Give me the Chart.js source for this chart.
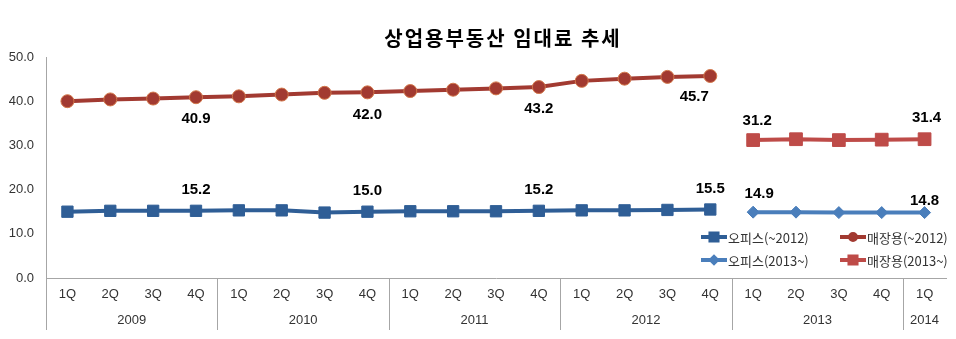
<!DOCTYPE html>
<html>
<head>
<meta charset="utf-8">
<script src="https://cdn.jsdelivr.net/npm/chart.js@4/dist/chart.umd.min.js"></script>
<style>
  html, body { margin: 0; padding: 0; background: #fff; }
  #wrap { width: 956px; height: 339px; position: relative; }
</style>
</head>
<body>
<div id="wrap"><canvas id="rentChart"></canvas></div>
<script>
const quarters = ['1Q', '2Q', '3Q', '4Q', '1Q', '2Q', '3Q', '4Q', '1Q', '2Q', '3Q', '4Q',
                  '1Q', '2Q', '3Q', '4Q', '1Q', '2Q', '3Q', '4Q', '1Q'];
const years = [
    { label: '2009', from: 0, to: 3 },
    { label: '2010', from: 4, to: 7 },
    { label: '2011', from: 8, to: 11 },
    { label: '2012', from: 12, to: 15 },
    { label: '2013', from: 16, to: 19 },
    { label: '2014', from: 20, to: 20 }
];
const yTicks = [0, 10, 20, 30, 40, 50];

// 2009 1Q ~ 2012 4Q
const officeOld = [15.0, 15.2, 15.2, 15.2, 15.3, 15.3, 14.8, 15.0,
                   15.1, 15.1, 15.1, 15.2, 15.3, 15.3, 15.4, 15.5];
const retailOld = [40.0, 40.4, 40.6, 40.9, 41.1, 41.5, 41.9, 42.0,
                   42.3, 42.6, 42.9, 43.2, 44.6, 45.1, 45.5, 45.7];
// 2013 1Q ~ 2014 1Q
const officeNew = [14.9, 14.9, 14.8, 14.8, 14.8];
const retailNew = [31.2, 31.4, 31.2, 31.3, 31.4];

const padTail = arr => arr.concat(Array(quarters.length - arr.length).fill(null));
const padHead = arr => Array(quarters.length - arr.length).fill(null).concat(arr);

const Palette = {
    navy: '#2F5E96',
    sky: '#4A7EBB',
    brick: '#A23A31',
    brickEdge: '#D2774A',
    rose: '#BE4B48',
    axis: '#A6A6A6',
    text: '#333333'
};

// which points get a value label, and where (px offset from the point)
const valueLabels = [
    { ds: 0, idx: [3, 7, 11], dx: 0, dy: -21 },
    { ds: 0, idx: [15], dx: 0, dy: -21 },
    { ds: 1, idx: [3, 7, 11], dx: 0, dy: 22 },
    { ds: 1, idx: [15], dx: -16, dy: 21 },
    { ds: 2, idx: [16], dx: 6, dy: -18 },
    { ds: 2, idx: [20], dx: 0, dy: -12 },
    { ds: 3, idx: [16], dx: 4, dy: -19 },
    { ds: 3, idx: [20], dx: 2, dy: -21 }
];

const decorPlugin = {
    id: 'decor',
    afterDraw(chart) {
        const ctx = chart.ctx;
        const area = chart.chartArea;
        const xs = chart.scales.x;
        const step = xs.getPixelForValue(1) - xs.getPixelForValue(0);
        ctx.save();

        // title
        ctx.fillStyle = '#000';
        ctx.font = 'bold 20px "Noto Sans CJK KR", sans-serif';
        ctx.letterSpacing = '2px';
        ctx.textAlign = 'center';
        ctx.textBaseline = 'middle';
        ctx.fillText('상업용부동산 임대료 추세', 503, 38);
        ctx.letterSpacing = '0px';

        // quarter / year axis
        const bottom = 330;
        ctx.strokeStyle = Palette.axis;
        ctx.lineWidth = 1;
        ctx.beginPath();
        ctx.moveTo(area.left + 0.5, area.bottom);
        ctx.lineTo(area.left + 0.5, bottom);
        years.forEach(y => {
            const right = Math.round(xs.getPixelForValue(y.to) + step / 2) + 0.5;
            if (y.to < quarters.length - 1) {
                ctx.moveTo(right, area.bottom);
                ctx.lineTo(right, bottom);
            }
        });
        ctx.stroke();

        ctx.fillStyle = Palette.text;
        ctx.font = '13px "Liberation Sans", Arial, sans-serif';
        quarters.forEach((q, i) => {
            ctx.fillText(q, xs.getPixelForValue(i), 294);
        });
        years.forEach(y => {
            const mid = (xs.getPixelForValue(y.from) + xs.getPixelForValue(y.to)) / 2;
            ctx.fillText(y.label, mid, 320);
        });

        // value labels
        ctx.fillStyle = '#000';
        ctx.font = 'bold 15px "Liberation Sans", Arial, sans-serif';
        valueLabels.forEach(v => {
            const meta = chart.getDatasetMeta(v.ds);
            const data = chart.data.datasets[v.ds].data;
            v.idx.forEach(i => {
                const pt = meta.data[i];
                ctx.fillText(data[i].toFixed(1), pt.x + v.dx, pt.y + v.dy);
            });
        });

        // legend
        const items = [
            { ds: 0, x: 701, y: 237 },
            { ds: 1, x: 840, y: 237 },
            { ds: 2, x: 701, y: 260 },
            { ds: 3, x: 840, y: 260 }
        ];
        ctx.font = '13px "Noto Sans CJK KR", sans-serif';
        ctx.textAlign = 'left';
        items.forEach(it => {
            const d = chart.data.datasets[it.ds];
            ctx.strokeStyle = d.borderColor;
            ctx.lineWidth = 4;
            ctx.beginPath();
            ctx.moveTo(it.x, it.y);
            ctx.lineTo(it.x + 26, it.y);
            ctx.stroke();
            Chart.helpers.drawPoint(ctx, {
                pointStyle: d.pointStyle,
                radius: d.legendRadius,
                borderWidth: 1
            }, it.x + 13, it.y);
            ctx.fillStyle = d.pointBackgroundColor;
            ctx.fill();
            ctx.fillStyle = Palette.text;
            ctx.fillText(d.label, it.x + 27, it.y + 1);
        });
        ctx.restore();
    }
};

new Chart(document.getElementById('rentChart'), {
    type: 'line',
    data: {
        labels: quarters,
        datasets: [
            {
                label: '오피스(~2012)',
                data: padTail(officeOld),
                borderColor: Palette.navy,
                borderWidth: 4,
                pointStyle: 'rect',
                pointRadius: 8,
                legendRadius: 5,
                pointBackgroundColor: Palette.navy,
                pointBorderColor: Palette.navy,
                pointBorderWidth: 1,
                tension: 0
            },
            {
                label: '매장용(~2012)',
                data: padTail(retailOld),
                borderColor: Palette.brick,
                borderWidth: 4,
                pointStyle: 'circle',
                pointRadius: 6.5,
                legendRadius: 3,
                pointBackgroundColor: Palette.brick,
                pointBorderColor: Palette.brickEdge,
                pointBorderWidth: 1,
                tension: 0
            },
            {
                label: '오피스(2013~)',
                data: padHead(officeNew),
                borderColor: Palette.sky,
                borderWidth: 4,
                pointStyle: 'rectRot',
                pointRadius: 6,
                legendRadius: 3,
                pointBackgroundColor: Palette.sky,
                pointBorderColor: Palette.sky,
                pointBorderWidth: 1,
                tension: 0
            },
            {
                label: '매장용(2013~)',
                data: padHead(retailNew),
                borderColor: Palette.rose,
                borderWidth: 4,
                pointStyle: 'rect',
                pointRadius: 9,
                legendRadius: 5,
                pointBackgroundColor: Palette.rose,
                pointBorderColor: Palette.rose,
                pointBorderWidth: 1,
                tension: 0
            }
        ]
    },
    options: {
        responsive: true,
        maintainAspectRatio: false,
        animation: false,
        spanGaps: false,
        layout: { padding: { top: 57, right: 7, bottom: 0, left: 0 } },
        plugins: {
            legend: { display: false },
            title: { display: false },
            tooltip: { enabled: false }
        },
        scales: {
            x: {
                type: 'category',
                offset: true,
                grid: { display: false, drawTicks: false },
                border: { display: true, color: Palette.axis, width: 1 },
                ticks: { display: false },
                afterFit: s => { s.height = 61; }
            },
            y: {
                min: 0,
                max: 50,
                afterBuildTicks: s => { s.ticks = yTicks.map(v => ({ value: v })); },
                grid: { display: false, drawTicks: false },
                border: { display: true, color: Palette.axis, width: 1 },
                ticks: {
                    padding: 12,
                    color: Palette.text,
                    font: { family: '"Liberation Sans", Arial, sans-serif', size: 13 },
                    callback: v => v.toFixed(1)
                },
                afterFit: s => { s.width = 46; }
            }
        }
    },
    plugins: [decorPlugin]
});
</script>
</body>
</html>
